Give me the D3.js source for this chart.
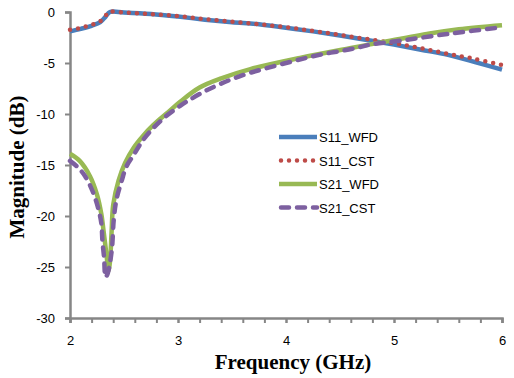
<!DOCTYPE html>
<html>
<head>
<meta charset="utf-8">
<script src="https://cdn.jsdelivr.net/npm/d3@7"></script>
<style>
  body { margin: 0; background: #fff; }
  svg { display: block; }
  .tick text { font-family: "Liberation Sans", Arial, sans-serif; font-size: 13px; fill: #000; }
  .axis-title { font-family: "Liberation Serif", "Times New Roman", serif; font-weight: bold; font-size: 21px; fill: #000; }
  .legend text { font-family: "Liberation Sans", Arial, sans-serif; font-size: 13px; fill: #000; }
</style>
</head>
<body>
<div id="chart"></div>
<script>
// frequency in GHz, magnitude in dB
const s11WfdFreq = [2.0, 2.1, 2.2, 2.28, 2.33, 2.37, 2.5, 2.75, 3.0, 3.25, 3.5, 3.75, 4.0, 4.25, 4.5, 4.75, 5.0, 5.25, 5.5, 5.75, 6.0];
const s11WfdMag  = [-1.9, -1.65, -1.35, -1.0, -0.45, 0, -0.05, -0.2, -0.45, -0.75, -1.0, -1.2, -1.55, -1.9, -2.3, -2.75, -3.2, -3.7, -4.2, -4.9, -5.65];

const s11CstFreq = [2.0, 2.1, 2.2, 2.28, 2.33, 2.37, 2.5, 2.75, 3.0, 3.25, 3.5, 3.75, 4.0, 4.25, 4.5, 4.75, 5.0, 5.25, 5.5, 5.75, 6.0];
const s11CstMag  = [-1.75, -1.55, -1.25, -0.9, -0.35, 0, -0.05, -0.2, -0.4, -0.7, -0.95, -1.2, -1.5, -1.85, -2.25, -2.65, -3.05, -3.55, -4.1, -4.6, -5.2];

const s21WfdFreq = [2.0, 2.09, 2.185, 2.25, 2.29, 2.31, 2.34, 2.355, 2.37, 2.385, 2.4, 2.45, 2.51, 2.59, 2.68, 2.77, 2.9, 3.02, 3.2, 3.4, 3.67, 4.13, 4.59, 4.87, 5.33, 5.6, 6.0];
const s21WfdMag  = [-13.9, -14.6, -16.1, -17.9, -19.8, -21.4, -24.0, -25.4, -24.5, -21.6, -18.9, -16.5, -14.8, -13.3, -12.1, -11.1, -9.9, -8.8, -7.4, -6.5, -5.6, -4.5, -3.55, -3.0, -2.1, -1.7, -1.3];

const s21CstFreq = [2.0, 2.07, 2.14, 2.21, 2.26, 2.29, 2.3, 2.315, 2.33, 2.35, 2.37, 2.39, 2.405, 2.43, 2.48, 2.52, 2.59, 2.68, 2.77, 2.88, 3.02, 3.11, 3.28, 3.57, 4.0, 4.31, 4.62, 4.78, 5.07, 5.53, 6.0];
const s21CstMag  = [-14.6, -15.2, -16.1, -17.6, -19.2, -20.7, -22.4, -24.0, -26.0, -25.6, -24.6, -23.0, -20.4, -18.4, -16.5, -15.2, -14.0, -12.5, -11.4, -10.3, -9.2, -8.6, -7.6, -6.3, -5.0, -4.2, -3.6, -3.2, -2.8, -2.1, -1.5];

const seriesNames = ["S11_WFD", "S11_CST", "S21_WFD", "S21_CST"];
const xTicks = [2, 3, 4, 5, 6];
const yTicks = [0, -5, -10, -15, -20, -25, -30];

const series = [
  { name: seriesNames[0], freq: s11WfdFreq, mag: s11WfdMag, color: "#4a7ebb", width: 4.5, dash: null },
  { name: seriesNames[1], freq: s11CstFreq, mag: s11CstMag, color: "#be4b48", width: 4.5, dash: "0 8" },
  { name: seriesNames[2], freq: s21WfdFreq, mag: s21WfdMag, color: "#98b954", width: 4.5, dash: null },
  { name: seriesNames[3], freq: s21CstFreq, mag: s21CstMag, color: "#7d60a0", width: 4.5, dash: "8 8" }
];

const width = 514, height = 378;
const margin = { top: 12, right: 12, bottom: 60, left: 70 };
const innerW = width - margin.left - margin.right;
const innerH = height - margin.top - margin.bottom;

const svg = d3.select("#chart").append("svg")
  .attr("width", width)
  .attr("height", height);

const g = svg.append("g")
  .attr("transform", `translate(${margin.left},${margin.top})`);

const x = d3.scaleLinear().domain([2, 6]).range([0, innerW]);
const y = d3.scaleLinear().domain([-30, 0]).range([innerH, 0]);

// minor ticks on x every 0.2
const xMinor = d3.range(2, 6.0001, 0.2);
g.append("g")
  .attr("transform", `translate(0,${innerH})`)
  .call(d3.axisBottom(x).tickValues(xMinor).tickSize(5).tickFormat(""))
  .call(a => a.selectAll("line").attr("stroke", "#868686").attr("stroke-width", 2))
  .call(a => a.select(".domain").remove());

const xAxisG = g.append("g")
  .attr("transform", `translate(0,${innerH})`)
  .call(d3.axisBottom(x).tickValues(xTicks).tickSize(5).tickPadding(13).tickFormat(d3.format("d")));

const yAxisG = g.append("g")
  .call(d3.axisLeft(y).tickValues(yTicks).tickSize(5).tickPadding(10).tickFormat(d => d === 0 ? "0" : "-" + Math.abs(d)));

[xAxisG, yAxisG].forEach(a => {
  a.select(".domain").attr("stroke", "#868686").attr("stroke-width", 2.5);
  a.selectAll(".tick line").attr("stroke", "#868686").attr("stroke-width", 2);
});

const line = d3.line()
  .x(d => x(d[0]))
  .y(d => y(d[1]))
  .curve(d3.curveCatmullRom.alpha(0.5));

series.forEach(s => {
  const pts = s.freq.map((f, i) => [f, s.mag[i]]);
  g.append("path")
    .datum(pts)
    .attr("fill", "none")
    .attr("stroke", s.color)
    .attr("stroke-width", s.width)
    .attr("stroke-linecap", s.dash ? "round" : "butt")
    .attr("stroke-linejoin", "round")
    .attr("stroke-dasharray", s.dash)
    .attr("d", line);
});

// legend
const legend = svg.append("g").attr("class", "legend")
  .attr("transform", "translate(279,137)");

series.forEach((s, i) => {
  const row = legend.append("g").attr("transform", `translate(0,${i * 23.5})`);
  row.append("line")
    .attr("x1", s.dash ? 2 : 0).attr("x2", 38)
    .attr("y1", 0).attr("y2", 0)
    .attr("stroke", s.color)
    .attr("stroke-width", s.width)
    .attr("stroke-linecap", s.dash ? "round" : "butt")
    .attr("stroke-dasharray", s.dash);
  row.append("text")
    .attr("x", 40).attr("y", 5)
    .text(s.name);
});

// axis titles
svg.append("text")
  .attr("class", "axis-title")
  .attr("x", margin.left + innerW / 2 + 7)
  .attr("y", 369)
  .attr("text-anchor", "middle")
  .text("Frequency (GHz)");

svg.append("text")
  .attr("class", "axis-title")
  .attr("transform", "translate(24,167) rotate(-90)")
  .attr("text-anchor", "middle")
  .text("Magnitude (dB)");
</script>
</body>
</html>
